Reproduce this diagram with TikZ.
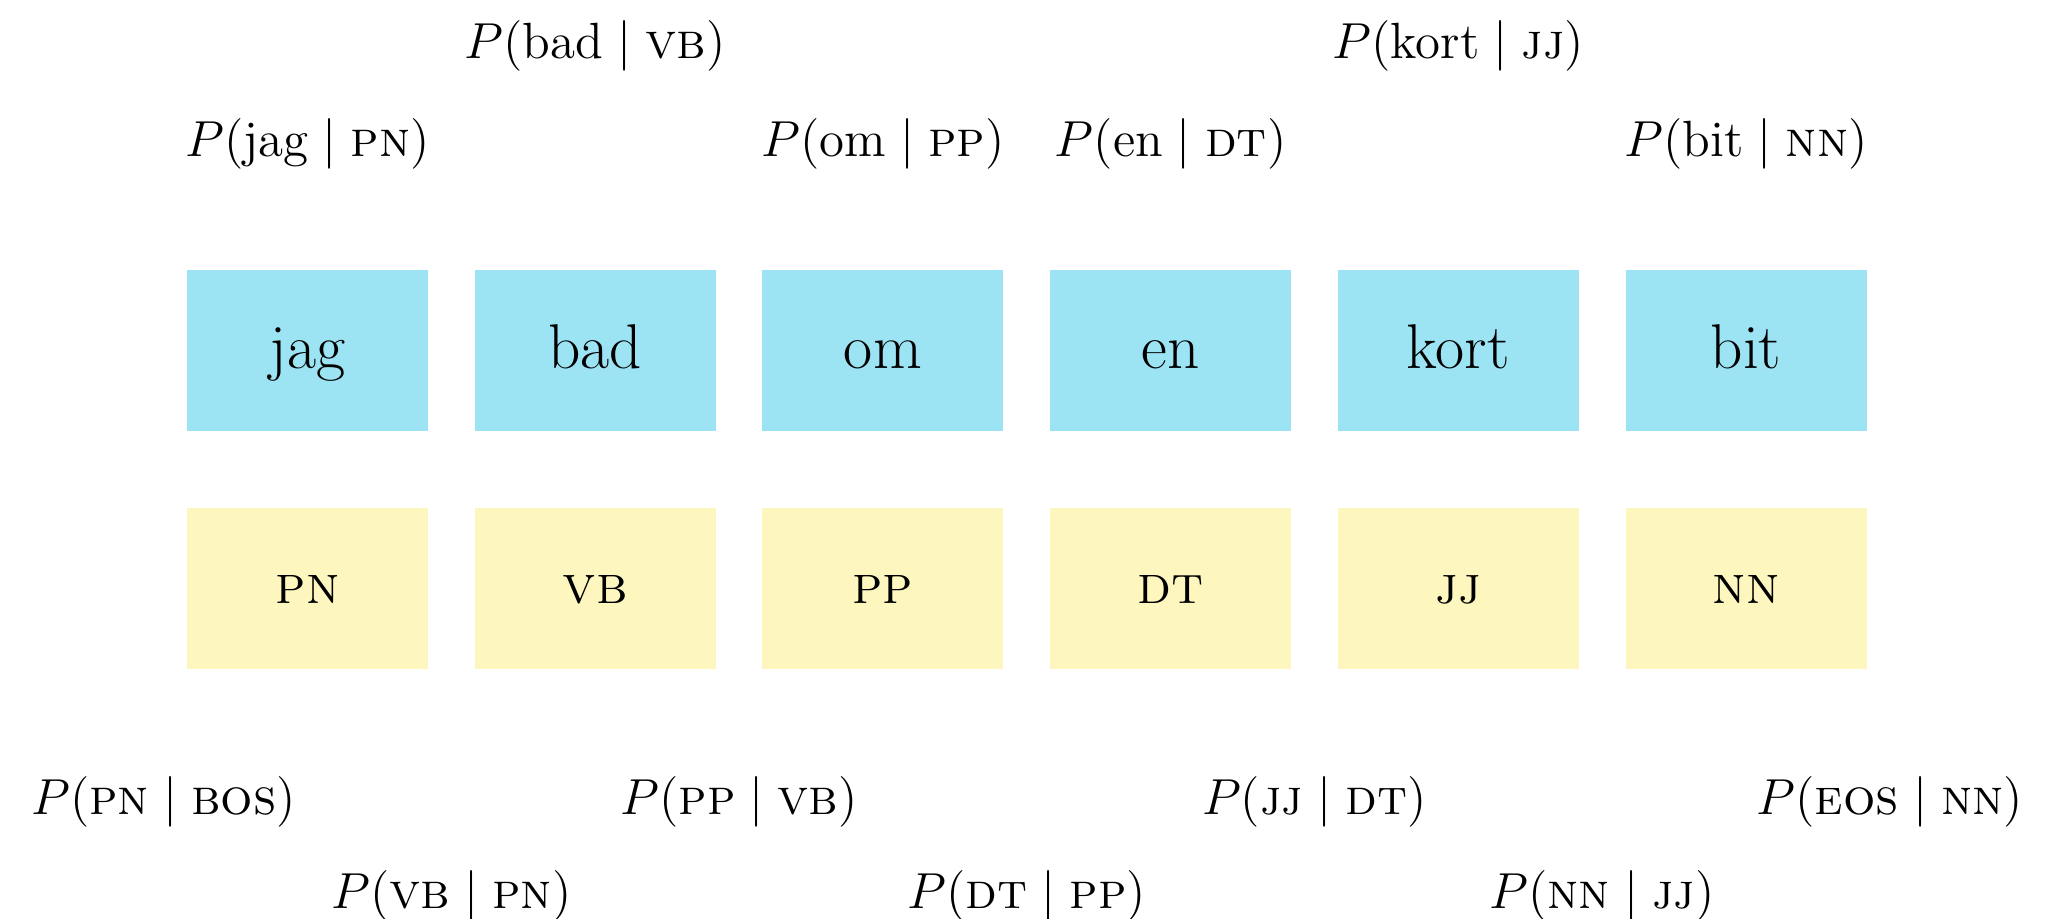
\documentclass[tikz,border=0pt]{standalone}
\usepackage{amsmath}
\usepackage{pgf,tikz}

\definecolor{wordblue}{RGB}{156,227,243}
\definecolor{tagyellow}{RGB}{253,247,191}

\newcommand{\tg}[1]{\text{\textsc{#1}}}

\begin{document}
\begin{tikzpicture}[
    word/.style={fill=wordblue, minimum width=2.41cm, minimum height=1.61cm,
      inner sep=0pt, text height=12pt, text depth=2pt,
      font=\fontsize{18}{21}\selectfont},
    tag/.style={fill=tagyellow, minimum width=2.41cm, minimum height=1.61cm,
      inner sep=0pt, text height=9pt, text depth=0.7pt,
      font=\fontsize{15.5}{18}\selectfont},
    prob/.style={anchor=base, inner sep=0pt, font=\fontsize{14.5}{17}\selectfont}
  ]
  \useasboundingbox (0,0) rectangle (20.46,9.19);
  % words
  \node[word] (WordJag)  at (3.075,5.685)  {jag};
  \node[word] (WordBad)  at (5.952,5.685)  {bad};
  \node[word] (WordOm)   at (8.829,5.685)  {om};
  \node[word] (WordEn)   at (11.706,5.685) {en};
  \node[word] (WordKort) at (14.583,5.685) {kort};
  \node[word] (WordBit)  at (17.46,5.685)  {bit};
  % tags
  \node[tag] (TagPN) at (3.075,3.305)  {\textsc{pn}};
  \node[tag] (TagVB) at (5.952,3.305)  {\textsc{vb}};
  \node[tag] (TagPP) at (8.829,3.305)  {\textsc{pp}};
  \node[tag] (TagDT) at (11.706,3.305) {\textsc{dt}};
  \node[tag] (TagJJ) at (14.583,3.305) {\textsc{jj}};
  \node[tag] (TagNN) at (17.46,3.305)  {\textsc{nn}};
  % emission probabilities
  \node[prob] (EmitJag)  at (3.075,7.62)  {$P(\text{jag}\mid\tg{pn})$};
  \node[prob] (EmitBad)  at (5.952,8.60)  {$P(\text{bad}\mid\tg{vb})$};
  \node[prob] (EmitOm)   at (8.829,7.62)  {$P(\text{om}\mid\tg{pp})$};
  \node[prob] (EmitEn)   at (11.706,7.62) {$P(\text{en}\mid\tg{dt})$};
  \node[prob] (EmitKort) at (14.583,8.60) {$P(\text{kort}\mid\tg{jj})$};
  \node[prob] (EmitBit)  at (17.46,7.62)  {$P(\text{bit}\mid\tg{nn})$};
  % transition probabilities
  \node[prob] (TransPN)  at (1.637,1.04)  {$P(\tg{pn}\mid\tg{bos})$};
  \node[prob] (TransVB)  at (4.514,0.10)  {$P(\tg{vb}\mid\tg{pn})$};
  \node[prob] (TransPP)  at (7.391,1.04)  {$P(\tg{pp}\mid\tg{vb})$};
  \node[prob] (TransDT)  at (10.268,0.10) {$P(\tg{dt}\mid\tg{pp})$};
  \node[prob] (TransJJ)  at (13.145,1.04) {$P(\tg{jj}\mid\tg{dt})$};
  \node[prob] (TransNN)  at (16.022,0.10) {$P(\tg{nn}\mid\tg{jj})$};
  \node[prob] (TransEOS) at (18.899,1.04) {$P(\tg{eos}\mid\tg{nn})$};
\end{tikzpicture}
\end{document}
